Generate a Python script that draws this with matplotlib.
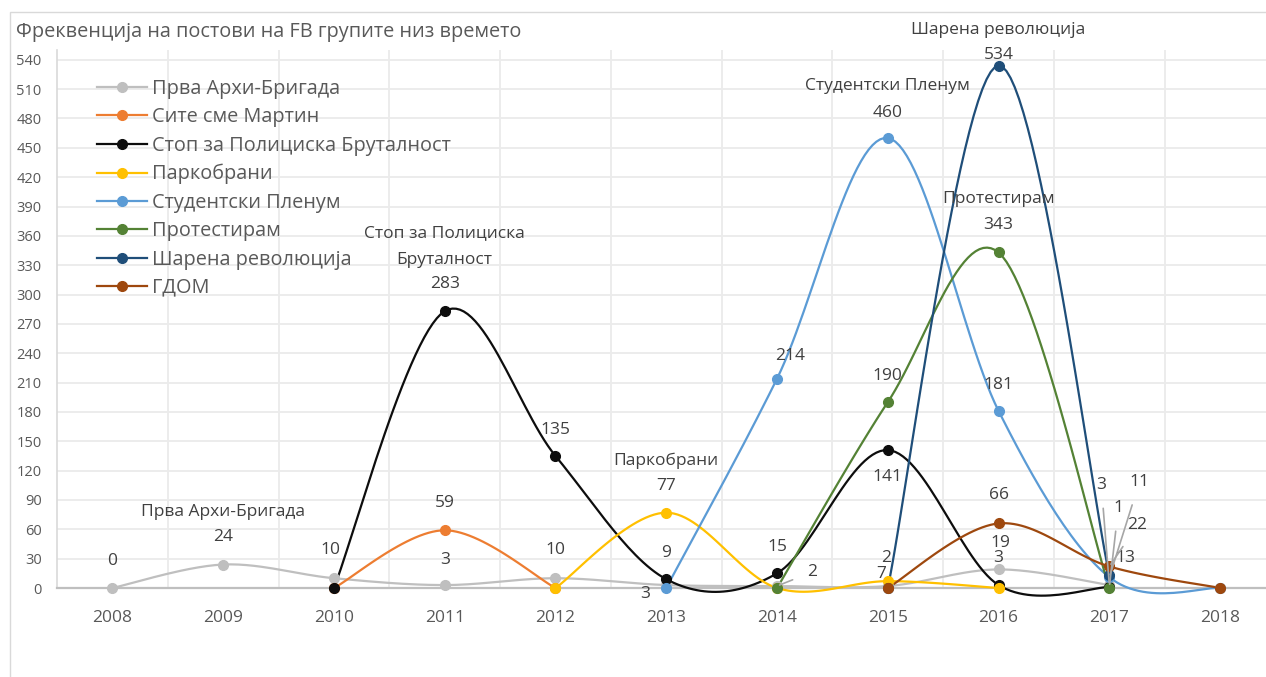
import numpy as np
import matplotlib
matplotlib.use('Agg')
import matplotlib.pyplot as plt
from matplotlib.patches import Rectangle

plt.rcParams['font.family'] = ['Open Sans', 'DejaVu Sans']

# ---- data ----
years = list(range(2008, 2019))
prva = [0, 24, 10, 3, 10, 3, 2, 2, 19, 3, None]
site = [None, None, 0, 59, 0, None, None, None, None, None, None]
stop = [None, None, 0, 283, 135, 9, 15, 141, 3, 1, None]
parko = [None, None, None, None, 0, 77, 0, 7, 0, None, None]
studentski = [None, None, None, None, None, 0, 214, 460, 181, 11, 0]
protest = [None, None, None, None, None, None, 0, 190, 343, 0, None]
sharena = [None, None, None, None, None, None, None, 0, 534, 13, None]
gdom = [None, None, None, None, None, None, None, 0, 66, 22, 0]

names = ['Прва Архи-Бригада', 'Сите сме Мартин', 'Стоп за Полициска Бруталност',
         'Паркобрани', 'Студентски Пленум', 'Протестирам', 'Шарена революција', 'ГДОМ']
series = [prva, site, stop, parko, studentski, protest, sharena, gdom]
colors = ['#BFBFBF', '#ED7D31', '#0D0D0D', '#FFC000', '#5B9BD5', '#548235', '#1F4E79', '#9E480E']

# data labels: (series index, year, dx px, dy px, leader line)
labels = [
    (0, 2008, 0, 27, False), (0, 2009, 0, 28, False), (0, 2010, -4, 28, False),
    (0, 2011, 0, 25, False), (0, 2012, 0, 28, False), (0, 2013, -21, -9, False),
    (0, 2014, 35, 14, True), (0, 2015, -2, 28, False), (0, 2016, 2, 26, False),
    (0, 2017, -8, 100, True),
    (1, 2011, 0, 27, False),
    (2, 2011, 0, 27, False), (2, 2012, 0, 26, False), (2, 2013, 0, 26, False),
    (2, 2014, 0, 26, False), (2, 2015, 0, -27, False), (2, 2016, 0, 27, False),
    (2, 2017, 9, 79, True),
    (3, 2013, 0, 27, False), (3, 2015, -7, 7, False),
    (4, 2014, 13, 23, False), (4, 2015, 0, 25, False), (4, 2016, 0, 26, False),
    (4, 2017, 30, 95, True),
    (5, 2015, 0, 26, False), (5, 2016, 0, 27, False),
    (6, 2016, 0, 11, False), (6, 2017, 16, 17, False),
    (7, 2016, 0, 28, False), (7, 2017, 28, 41, True),
]
# series names shown above one point: (series index, year, dy px of lowest line)
name_labels = [(0, 2009, 53), (2, 2011, 51), (3, 2013, 52), (4, 2015, 52),
               (5, 2016, 53), (6, 2016, 36)]
name_text = {2: 'Стоп за Полициска\nБруталност'}


def smooth(xs, ys, steps=30):
    # Excel-like smoothed line (Catmull-Rom as cubic Bezier)
    pts = np.column_stack([xs, ys]).astype(float)
    n = len(pts)
    out = [pts[0]]
    t = np.linspace(0, 1, steps)[1:, None]
    for i in range(n - 1):
        p0 = pts[i - 1] if i > 0 else pts[i]
        p1, p2 = pts[i], pts[i + 1]
        p3 = pts[i + 2] if i + 2 < n else pts[i + 1]
        c1 = p1 + (p2 - p0) / 6
        c2 = p2 - (p3 - p1) / 6
        seg = (1 - t) ** 3 * p1 + 3 * (1 - t) ** 2 * t * c1 + 3 * (1 - t) * t ** 2 * c2 + t ** 3 * p2
        out.extend(seg)
    return np.array(out)


W, H = 1266, 677
fig = plt.figure(figsize=(W / 100, H / 100), dpi=100, facecolor='white')
fig.patches.append(Rectangle((10 / W, -0.1), 1.2, (H - 12) / H + 0.1, transform=fig.transFigure,
                             fill=False, edgecolor='#D9D9D9', linewidth=1))
ax = fig.add_axes([57 / W, 89 / H, 1218.5 / W, 538 / H])
ax.set_xlim(2007.5, 2018.5)
ax.set_ylim(0, 550)

for vals, name, col in zip(series, names, colors):
    xs = [y for y, v in zip(years, vals) if v is not None]
    ys = [v for v in vals if v is not None]
    curve = smooth(xs, ys)
    ax.plot(curve[:, 0], curve[:, 1], color=col, lw=1.6, clip_on=False, zorder=3)
    ax.plot(xs, ys, 'o', color=col, ms=7, clip_on=False, zorder=4)
    ax.plot([], [], '-o', color=col, lw=1.6, ms=7, label=name)

txt_col = '#404040'
for si, yr, dx, dy, lead in labels:
    v = series[si][years.index(yr)]
    if lead:
        ax.annotate(str(v), (yr, v), xytext=(dx, dy), textcoords='offset pixels',
                    ha='center', va='center', fontsize=12.5, color=txt_col, zorder=6,
                    arrowprops=dict(arrowstyle='-', color='#A6A6A6', lw=1.2, shrinkA=9, shrinkB=2))
    else:
        ax.annotate(str(v), (yr, v), xytext=(dx, dy), textcoords='offset pixels',
                    ha='center', va='center', fontsize=12.5, color=txt_col, zorder=6)

for si, yr, dy in name_labels:
    v = series[si][years.index(yr)]
    lines = name_text.get(si, names[si]).split('\n')
    for k, line in enumerate(reversed(lines)):
        ax.annotate(line, (yr, v), xytext=(0, dy + 27 * k), textcoords='offset pixels',
                    ha='center', va='center', fontsize=12.5, color=txt_col, zorder=6)

ax.set_xticks(years)
ax.set_xticklabels([str(y) for y in years])
ax.set_yticks(range(0, 541, 30))
ax.set_xticks(np.arange(2008.5, 2018, 1), minor=True)
ax.grid(True, which='major', axis='y', color='#EBEBEB', lw=1.3)
ax.grid(True, which='minor', axis='x', color='#EBEBEB', lw=1.3)
ax.set_axisbelow(True)
ax.tick_params(axis='both', which='both', length=0, colors='#595959')
ax.tick_params(axis='x', labelsize=12.5, pad=16)
ax.tick_params(axis='y', labelsize=10.5, pad=11)
for s in ['top', 'right']:
    ax.spines[s].set_visible(False)
ax.spines['bottom'].set_color('#BFBFBF')
ax.spines['bottom'].set_linewidth(1.6)
ax.spines['left'].set_color('#D9D9D9')
ax.spines['left'].set_linewidth(1.2)

fig.text(16 / W, 1 - 32 / H, 'Фреквенција на постови на FB групите низ времето',
         fontsize=14.3, color='#595959', va='center', ha='left')

leg = ax.legend(loc='upper left', bbox_to_anchor=(97 / W, 1 - 79 / H), bbox_transform=fig.transFigure,
                frameon=False, fontsize=14.3, handlelength=2.5, handletextpad=0.25, labelspacing=0.42,
                borderaxespad=0, borderpad=0)
for t in leg.get_texts():
    t.set_color('#595959')

fig.savefig('out.png', dpi=100, facecolor='white')
